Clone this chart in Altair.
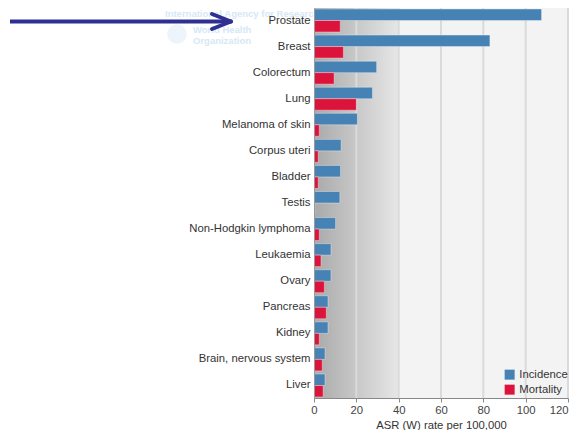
import altair as alt
import pandas as pd

sites = ["Prostate", "Breast", "Colorectum", "Lung", "Melanoma of skin", "Corpus uteri",
         "Bladder", "Testis", "Non-Hodgkin lymphoma", "Leukaemia", "Ovary", "Pancreas",
         "Kidney", "Brain, nervous system", "Liver"]
incidence = [107.5, 83.1, 29.6, 27.6, 20.5, 12.8, 12.5, 12.2, 10.2, 8.0, 8.0, 6.6, 6.6, 5.2, 5.2]
mortality = [12.4, 13.9, 9.5, 20.0, 2.5, 2.0, 2.0, 0.4, 2.5, 3.3, 4.9, 5.8, 2.5, 3.9, 4.3]
series = ["Incidence", "Mortality"]
colors = ["#4682b4", "#dc143c"]
x_ticks = [0, 20, 40, 60, 80, 100, 120]

rows = []
for s, i, m in zip(sites, incidence, mortality):
    rows.append({"site": s, "series": "Incidence", "value": i})
    rows.append({"site": s, "series": "Mortality", "value": m})
df = pd.DataFrame(rows)

W, H = 254, 390
FS = 11.3
one = pd.DataFrame({"a": [0]})

xscale = alt.Scale(domain=[0, 120], nice=False)

bg = alt.Chart(one).mark_rect(
    fill=alt.Gradient(
        gradient="linear",
        stops=[alt.GradientStop(color="#a9a9a9", offset=0),
               alt.GradientStop(color="#e6e6e6", offset=0.33),
               alt.GradientStop(color="#f3f3f3", offset=0.335),
               alt.GradientStop(color="#f3f3f3", offset=1)],
        x1=0, x2=1, y1=0, y2=0)
).encode(x=alt.datum(0, scale=xscale), x2=alt.datum(120), y=alt.value(0), y2=alt.value(H))

grid = alt.Chart(pd.DataFrame({"t": x_ticks[1:]})).mark_rule(
    color="#dadada", strokeWidth=2
).encode(x=alt.X("t:Q", scale=xscale), y=alt.value(0), y2=alt.value(H))

wm_style = dict(align="left", baseline="middle", fontSize=9.5, fontWeight="bold",
                color="#d6e8f6", font="Liberation Sans")
wm1 = alt.Chart(one).mark_text(text="International Agency for Research on Cancer", **wm_style
                               ).encode(x=alt.value(-149), y=alt.value(6))
wm2 = alt.Chart(one).mark_text(text="World Health", **wm_style
                               ).encode(x=alt.value(-121), y=alt.value(22))
wm3 = alt.Chart(one).mark_text(text="Organization", **wm_style
                               ).encode(x=alt.value(-121), y=alt.value(33))
logo = alt.Chart(one).mark_point(
    shape="circle", size=380, filled=True, color="#e6f0f9"
).encode(x=alt.value(-137), y=alt.value(26))

arrow_color = "#2e3192"
arr1 = alt.Chart(one).mark_rule(color=arrow_color, strokeWidth=4).encode(
    x=alt.value(-304), x2=alt.value(-83), y=alt.value(13.5), y2=alt.value(13.5))
arr2 = alt.Chart(one).mark_rule(color=arrow_color, strokeWidth=4, strokeCap="round").encode(
    x=alt.value(-102), x2=alt.value(-83), y=alt.value(6), y2=alt.value(13.5))
arr3 = alt.Chart(one).mark_rule(color=arrow_color, strokeWidth=4, strokeCap="round").encode(
    x=alt.value(-102), x2=alt.value(-83), y=alt.value(21), y2=alt.value(13.5))

bars = alt.Chart(df).mark_bar(stroke="white", strokeOpacity=0.35, strokeWidth=1).encode(
    y=alt.Y("site:N", sort=sites, title=None,
            scale=alt.Scale(paddingInner=0.12, paddingOuter=0.04),
            axis=alt.Axis(ticks=False, labelFontSize=FS, labelColor="#333333",
                          labelFont="Liberation Sans", labelPadding=4,
                          domainColor="#999999", zindex=1)),
    yOffset=alt.YOffset("series:N", sort=series),
    x=alt.X("value:Q", scale=xscale, title="ASR (W) rate per 100,000",
            axis=alt.Axis(values=x_ticks, grid=False, labelFontSize=FS, labelColor="#444444",
                          labelFont="Liberation Sans", titleFont="Liberation Sans",
                          labelAlign={"condition": {"test": "datum.value >= 120", "value": "right"},
                                      "value": "center"},
                          titleFontSize=FS, titleFontWeight="normal", titleColor="#333333",
                          domainColor="#888888", tickColor="#888888", tickSize=4,
                          labelPadding=2, titleBaseline="alphabetic", titleY=30)),
    color=alt.Color("series:N", sort=series,
                    scale=alt.Scale(domain=series, range=colors),
                    legend=alt.Legend(title=None, orient="none", legendX=190, legendY=361,
                                      symbolType="square", symbolSize=100,
                                      symbolStrokeWidth=0, labelFontSize=FS,
                                      labelColor="#333333", labelFont="Liberation Sans",
                                      rowPadding=3, padding=0)),
)

chart = alt.layer(bg, grid, logo, wm1, wm2, wm3, arr1, arr2, arr3, bars).properties(
    width=W, height=H,
    autosize=alt.AutoSizeParams(type="none"),
    padding={"left": 306, "top": 0, "right": 2, "bottom": 32},
).configure_view(stroke=None)

chart.save("out.html", embed_options={"renderer": "svg", "actions": False})
